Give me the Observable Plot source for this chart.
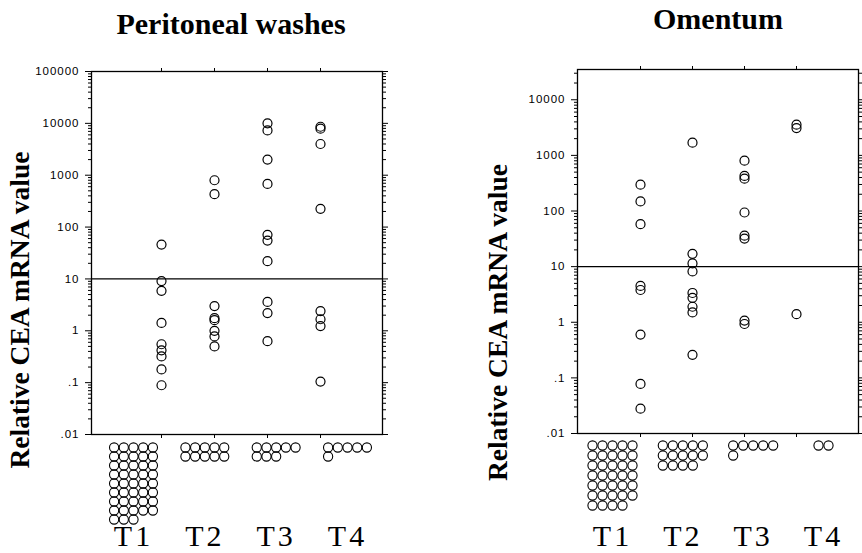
<!DOCTYPE html>
<html><head><meta charset="utf-8">
<script src="https://cdn.jsdelivr.net/npm/d3@7"></script>
<script src="https://cdn.jsdelivr.net/npm/@observablehq/plot@0.6"></script>
<style>
body{margin:0;background:#fff}
#chart{position:relative;width:862px;height:553px;background:#fff;overflow:hidden}
#chart svg{position:absolute;overflow:visible}
g[aria-label="y-axis tick label"] text{letter-spacing:1px}
</style></head><body><div id="chart"></div>
<script>
const categories = ["T1", "T2", "T3", "T4"];
const tickValues = [0.01, 0.1, 1, 10, 100, 1000, 10000, 100000];
const tickLabels = [".01", ".1", "1", "10", "100", "1000", "10000", "100000"];
const threshold = [10];
const yLabel = "Relative CEA mRNA value";

// Peritoneal washes
const washTitle = "Peritoneal washes";
const washT1 = [46, 9.1, 5.9, 1.42, 0.55, 0.42, 0.32, 0.18, 0.089];
const washT2 = [800, 430, 3.0, 1.75, 1.6, 1.0, 0.78, 0.5];
const washT3 = [10000, 7300, 2000, 680, 71, 55, 22, 3.6, 2.2, 0.63];
const washT4 = [8600, 7900, 4000, 225, 2.4, 1.67, 1.23, 0.105];
const washUndetected = [43, 10, 8, 6];

// Omentum
const omTitle = "Omentum";
const omT1 = [297, 149, 58, 4.5, 3.8, 0.6, 0.078, 0.028];
const omT2 = [1690, 17, 11.4, 8.2, 3.36, 2.75, 1.9, 1.5, 0.26];
const omT3 = [804, 428, 382, 94, 36, 32, 1.07, 0.93];
const omT4 = [3560, 3100, 1.4];
const omUndetected = [34, 14, 6, 2];

const serif = "Liberation Serif, Times New Roman, serif";
const sans = "Liberation Sans, Arial, Helvetica, sans-serif";
const chart = document.getElementById("chart");

function drawPanel(c) {
  const pts = c.series.flatMap((vals, i) => vals.map(v => ({cat: categories[i], value: v})));
  const majors = tickValues.filter(t => t <= c.yMax);
  const minor = d3.scaleLog().domain([0.01, c.yMax]).ticks().filter(t => !tickValues.includes(t));
  const main = Plot.plot({
    width: c.width, height: c.height,
    marginTop: c.frameTop, marginBottom: c.height - c.frameBottom,
    marginLeft: c.mLeft, marginRight: c.mRight,
    style: {background: "transparent", fontFamily: sans, color: "black"},
    x: {type: "point", domain: categories, range: c.xRange, axis: null},
    y: {type: "log", domain: [0.01, c.yMax], axis: null},
    marks: [
      Plot.frame({stroke: "black", strokeWidth: 1.3}),
      Plot.axisX({anchor: "top", tickSize: 4, tickFormat: () => "", label: null}),
      Plot.axisX({anchor: "bottom", tickSize: 4, tickFormat: () => "", label: null}),
      Plot.axisY(minor, {anchor: "left", tickSize: 3, tickFormat: () => "", label: null}),
      Plot.axisY(majors, {anchor: "left", tickSize: 6, tickPadding: 6, fontSize: 11.5,
        tickFormat: d => tickLabels[tickValues.indexOf(d)], label: null}),
      Plot.axisY(minor, {anchor: "right", tickSize: 3, tickFormat: () => "", label: null}),
      Plot.axisY(majors, {anchor: "right", tickSize: 5, tickFormat: () => "", label: null}),
      Plot.ruleY(threshold, {stroke: "black", strokeWidth: 1.3}),
      Plot.dot(pts, {x: "cat", y: "value", r: 4.5, stroke: "black", strokeWidth: 1.2, fill: "none"}),
      Plot.text([c.title], {text: d => d, frameAnchor: "top", textAnchor: "middle", dx: c.titleDx, dy: c.titleDy,
        lineAnchor: "bottom", fontSize: 30, fontWeight: "bold", fontFamily: serif, fill: "black",
        letterSpacing: c.titleSpacing}),
      Plot.text([yLabel], {text: d => d, frameAnchor: "left", textAnchor: "middle", lineAnchor: "middle",
        rotate: -90, dx: c.labelDx, dy: c.labelDy,
        fontSize: 27.5, fontWeight: "bold", fontFamily: serif, fill: "black"})
    ]
  });
  main.style.left = c.left + "px";
  main.style.top = "0px";
  chart.appendChild(main);

  const step = (c.xRange[1] - c.xRange[0]) / 3;
  const cluster = [];
  c.undetected.forEach((n, i) => {
    const rows = Math.ceil(n / 5);
    for (let k = 0; k < n; k++) {
      const row = Math.floor(k / 5), col = k % 5;
      const inRow = Math.min(5, n - row * 5);
      const center = rows === 1 ? (inRow - 1) / 2 : 2;
      cluster.push({i, row, off: col - center});
    }
  });
  const bottom = Plot.plot({
    width: c.width, height: 117, margin: 0,
    style: {background: "transparent", color: "black"},
    x: {type: "linear", domain: [0, 3], range: c.xRange, axis: null},
    y: {type: "linear", domain: [0, 1], range: [c.rowTop, c.rowTop + c.rowStep], axis: null},
    marks: [
      Plot.dot(cluster, {x: d => d.i + d.off * c.colStep / step, y: "row", r: 4.6,
        stroke: "black", strokeWidth: 1.1, fill: "none"}),
      Plot.text(categories, {text: d => d, x: (d, i) => i, frameAnchor: "bottom", lineAnchor: "bottom", dy: -8,
        fontSize: 30, fontFamily: serif, fill: "black"})
    ]
  });
  bottom.style.left = c.left + "px";
  bottom.style.top = "436px";
  bottom.querySelectorAll("text").forEach(t => t.style.letterSpacing = "3px");
  chart.appendChild(bottom);
}

drawPanel({
  left: 0, width: 430, height: 445, frameTop: 71, frameBottom: 434,
  mLeft: 91, mRight: 48, xRange: [133, 347], yMax: 100000,
  title: washTitle, titleDx: -6, titleDy: -38, titleSpacing: "0.5px", labelDx: -71, labelDy: 57,
  series: [washT1, washT2, washT3, washT4], undetected: washUndetected,
  rowTop: 11, rowStep: 9, colStep: 9.7
});
drawPanel({
  left: 430, width: 432, height: 445, frameTop: 69, frameBottom: 433,
  mLeft: 147, mRight: 4, xRange: [182, 393], yMax: 35000,
  title: omTitle, titleDx: 0, titleDy: -41, titleSpacing: "0.5px", labelDx: -79, labelDy: 71,
  series: [omT1, omT2, omT3, omT4], undetected: omUndetected,
  rowTop: 9, rowStep: 10, colStep: 10
});
</script></body></html>
